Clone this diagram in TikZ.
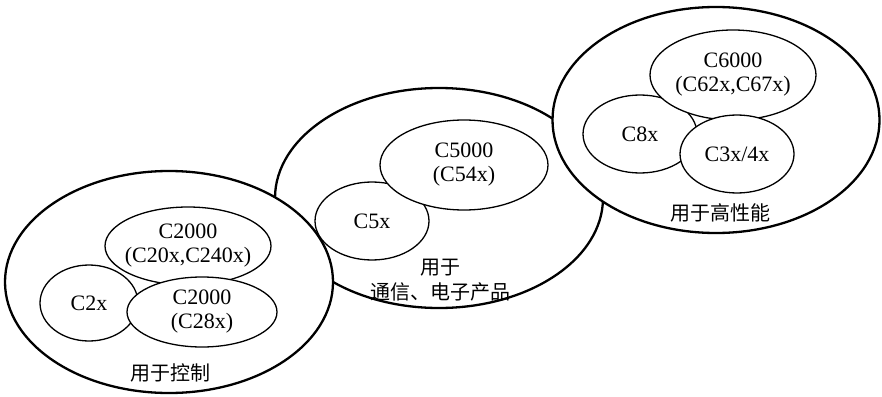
\documentclass[tikz,border=0pt]{standalone}
\usepackage{fontspec}
\setmainfont{Liberation Serif}
\newfontfamily\cjk{Noto Sans CJK SC}
\usetikzlibrary{shapes.geometric}
\begin{document}
\begin{tikzpicture}[x=1pt,y=-1pt,
  big/.style={draw=black,line width=2.3pt,fill=white,ellipse,inner sep=0pt},
  small/.style={draw=black,line width=1.3pt,fill=white,ellipse,inner sep=0pt},
  txt/.style={font=\fontsize{22}{24}\selectfont,align=center,inner sep=0pt},
  cn/.style={font=\cjk\fontsize{20}{25}\selectfont,align=center,inner sep=0pt}]
\useasboundingbox (0,0) rectangle (882,396);
% middle group (beneath)
\node[big,minimum width=328pt,minimum height=220pt] (mid) at (439,198) {};
% left and right big ellipses on top
\node[big,minimum width=328pt,minimum height=222pt] (left) at (169,282) {};
\node[big,minimum width=327pt,minimum height=226pt] (right) at (716,120) {};
% middle inner
\node[small,minimum width=114pt,minimum height=78pt] (c5x) at (372,221) {};
\node[small,minimum width=168pt,minimum height=90pt] (c5000) at (464,165) {};
\node[txt] (c5xt) at (c5x) {C5x};
\node[txt] (c5000t) at (c5000) {C5000\\(C54x)};
\node[cn] (midlab) at (440,280) {用于\\通信、电子产品};
% left inner
\node[small,minimum width=98pt,minimum height=76pt] (c2x) at (89,303) {};
\node[small,minimum width=166pt,minimum height=78pt] (c20x) at (188,246) {};
\node[small,minimum width=150pt,minimum height=70pt] (c28x) at (202,312) {};
\node[txt] (c2xt) at (c2x) {C2x};
\node[txt] (c20xt) at (c20x) {C2000\\(C20x,C240x)};
\node[txt] (c28xt) at (c28x) {C2000\\(C28x)};
\node[cn] (leftlab) at (170,373) {用于控制};
% right inner
\node[small,minimum width=114pt,minimum height=78pt] (c8x) at (640,134) {};
\node[small,minimum width=166pt,minimum height=90pt] (c6000) at (733,75) {};
\node[small,minimum width=114pt,minimum height=78pt] (c3x) at (737,154) {};
\node[txt] (c8xt) at (c8x) {C8x};
\node[txt] (c6000t) at (c6000) {C6000\\(C62x,C67x)};
\node[txt] (c3xt) at (c3x) {C3x/4x};
\node[cn] (rightlab) at (720,213) {用于高性能};
\end{tikzpicture}
\end{document}
